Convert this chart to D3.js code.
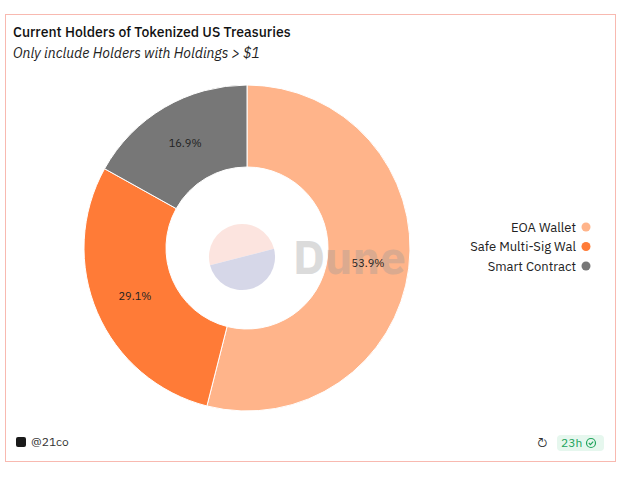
<!DOCTYPE html>
<html><head><meta charset="utf-8">
<script src="https://cdn.jsdelivr.net/npm/d3@7"></script>
<style>body{margin:0;background:#fff;font-family:"IBM Plex Sans","Noto Sans",sans-serif}</style>
</head><body><svg id="c" width="622" height="479"></svg>
<script>
const categories=["EOA Wallet","Safe Multi-Sig Wal","Smart Contract"];
const values=[53.9,29.1,16.9];
const colors=["#ffb48a","#ff7b37","#777777"];
const svg=d3.select("#c");
svg.append("rect").attr("x",5.5).attr("y",14.5).attr("width",610).attr("height",447).attr("fill","#fff").attr("stroke","#f8b9b0");
svg.append("text").attr("x",13).attr("y",37).attr("font-size",14).attr("font-weight",500).attr("fill","#111").text("Current Holders of Tokenized US Treasuries");
svg.append("text").attr("x",13).attr("y",58).attr("font-size",14).attr("font-style","italic").attr("fill","#222").text("Only include Holders with Holdings > $1");
const cx=247,cy=248,R=163,r=81;
const pie=d3.pie().sort(null).value(d=>d)(values);
const arc=d3.arc().innerRadius(r).outerRadius(R);
const g=svg.append("g").attr("transform",`translate(${cx},${cy})`);
g.selectAll("path").data(pie).join("path").attr("d",arc).attr("fill",(d,i)=>colors[i]).attr("stroke","#fff").attr("stroke-width",1);
// watermark
const w=svg.append("g").attr("opacity",0.35);
w.append("path").attr("d",d3.arc().innerRadius(0).outerRadius(33).startAngle(-Math.PI/2-0.25).endAngle(Math.PI/2-0.25)()).attr("transform","translate(242,257)").attr("fill","#f8b5a5");
w.append("path").attr("d",d3.arc().innerRadius(0).outerRadius(33).startAngle(Math.PI/2-0.25).endAngle(1.5*Math.PI-0.25)()).attr("transform","translate(242,257)").attr("fill","#8d8fc0");
svg.append("text").attr("x",293).attr("y",274).attr("font-size",46).attr("font-weight","bold").attr("fill","#999").attr("opacity",0.35).text("Dune");
const fmt=v=>v.toFixed(1)+"%";
const lbl=svg.append("g").attr("transform",`translate(${cx},${cy})`);
lbl.selectAll("text").data(pie).join("text")
 .attr("transform",d=>`translate(${arc.centroid(d)})`)
 .attr("text-anchor","middle").attr("dy","0.35em").attr("font-size",11).attr("fill","#222").text(d=>fmt(d.data));
const lg=svg.append("g");
categories.forEach((c,i)=>{
 const y=227+i*19.5;
 lg.append("text").attr("x",576).attr("y",y).attr("dy","0.35em").attr("text-anchor","end").attr("font-size",13).attr("fill","#222").text(c);
 lg.append("circle").attr("cx",586).attr("cy",y).attr("r",4.5).attr("fill",colors[i]);
});
svg.append("rect").attr("x",16).attr("y",437).attr("width",10).attr("height",10).attr("rx",2).attr("fill","#1a1a1a");
svg.append("text").attr("x",31).attr("y",446).attr("font-size",12).attr("fill","#333").text("@21co");
svg.append("text").attr("x",537).attr("y",447).attr("font-size",13).attr("fill","#333").text("↻");
svg.append("rect").attr("x",557).attr("y",435).attr("width",47).attr("height",16).attr("rx",4).attr("fill","#e6f7ee");
svg.append("text").attr("x",561).attr("y",447).attr("font-size",12).attr("fill","#22a45d").text("23h");
svg.append("circle").attr("cx",591).attr("cy",443).attr("r",4.5).attr("fill","none").attr("stroke","#22a45d").attr("stroke-width",1.2);
svg.append("path").attr("d","M588.8,443 l1.6,1.6 l2.8,-3").attr("fill","none").attr("stroke","#22a45d").attr("stroke-width",1.2);
</script></body></html>
